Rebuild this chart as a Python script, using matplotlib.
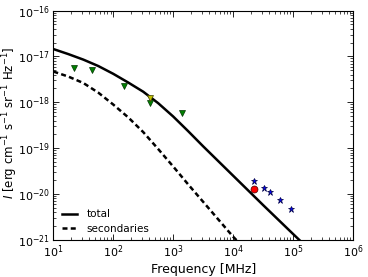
import matplotlib
matplotlib.use("Agg")
import matplotlib.pyplot as plt
import numpy as np

# model curves, log10 of frequency [MHz] and intensity
curve_logf = [1.0, 1.25, 1.5, 1.75, 2.0, 2.25, 2.5, 2.75, 3.0, 3.25, 3.5, 3.75,
              4.0, 4.5, 5.0, 5.2]
total_logI = [-16.84, -16.95, -17.07, -17.21, -17.38, -17.57, -17.77, -18.02,
              -18.31, -18.63, -18.96, -19.28, -19.60, -20.24, -20.87, -21.12]
sec_logf = [1.0, 1.25, 1.5, 1.75, 2.0, 2.25, 2.5, 2.75, 3.0, 3.25, 3.5, 4.0, 4.5]
sec_logI = [-17.33, -17.44, -17.58, -17.79, -18.05, -18.33, -18.65, -19.02,
            -19.40, -19.79, -20.17, -20.93, -21.6]

# data points
green_freq = [22, 45, 151, 417, 1420]
green_I = [5.6e-18, 5.1e-18, 2.27e-18, 9.8e-19, 5.8e-19]
yellow_freq = [417]
yellow_I = [1.26e-18]
star_freq = [22.6e3, 32.6e3, 40.6e3, 60.3e3, 91.9e3]
star_I = [1.96e-20, 1.34e-20, 1.09e-20, 7.3e-21, 4.8e-21]
red_freq = [22.6e3]
red_I = [1.29e-20]

plt.rcParams['font.family'] = ['DejaVu Sans']
plt.rcParams['mathtext.fontset'] = 'dejavusans'
plt.rcParams['axes.unicode_minus'] = False

fig = plt.figure(figsize=(3.68, 2.77), dpi=100)
ax = fig.add_axes([0.145, 0.134, 0.814, 0.828])

ax.plot(10 ** np.array(curve_logf), 10 ** np.array(total_logI),
        color='black', lw=1.8, label='total')
ax.plot(10 ** np.array(sec_logf), 10 ** np.array(sec_logI),
        color='black', lw=1.8, linestyle=(0, (2, 1.3)), label='secondaries')

ax.plot(green_freq, green_I, 'v', color=(0, 0.5, 0), ms=5, mec='#003300', mew=0.5, ls='none')
ax.plot(yellow_freq, yellow_I, 'v', color=(0.75, 0.75, 0), ms=5, mec='#404000', mew=0.5, ls='none')
ax.plot(star_freq, star_I, '*', color='#0000ff', ms=5, mec='#000040', mew=0.5, ls='none')
ax.plot(red_freq, red_I, 'o', color='#ff0000', ms=5, mec='#400000', mew=0.5, ls='none')

ax.set_xscale('log')
ax.set_yscale('log')
ax.set_xlim(1e1, 1e6)
ax.set_ylim(1e-21, 1e-16)

ax.tick_params(which='both', direction='in', top=True, right=True, labelsize=8)
ax.tick_params(which='major', length=4, width=0.6, pad=2.5)
ax.tick_params(which='minor', length=2, width=0.5)
for s in ax.spines.values():
    s.set_linewidth(0.8)

ax.set_xlabel('Frequency [MHz]', fontsize=9, labelpad=2)
ax.set_ylabel(r'$I$ [erg cm$^{-1}$ s$^{-1}$ sr$^{-1}$ Hz$^{-1}$]', fontsize=8.5,
              va='center')
ax.yaxis.set_label_coords(-0.143, 0.51)

ax.legend(loc='lower left', frameon=False, fontsize=7.5, handlelength=1.5,
          borderaxespad=0.4, labelspacing=0.45, handletextpad=0.9,
          bbox_to_anchor=(0.0, -0.01))

fig.savefig('out.png', dpi=100)
